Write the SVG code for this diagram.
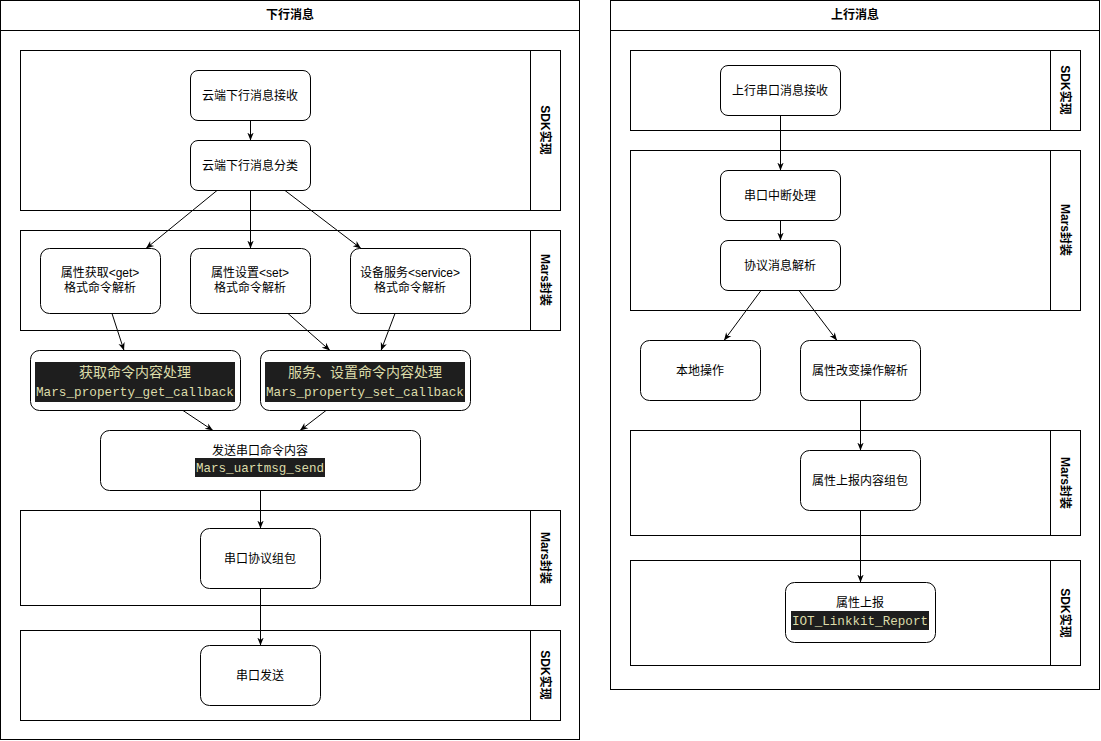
<svg xmlns="http://www.w3.org/2000/svg" width="1101" height="741" viewBox="0 0 1101 741">
<style>
  .pool, .lane { fill: #ffffff; stroke: #000000; stroke-width: 1; }
  .sep { stroke: #000000; stroke-width: 1; fill: none; }
  .node { fill: #ffffff; stroke: #000000; stroke-width: 1; }
  .t { font-family: "Liberation Sans", "Noto Sans CJK SC", sans-serif; font-size: 12px; fill: #000000; text-anchor: middle; }
  .title { font-family: "Liberation Sans", "Noto Sans CJK SC", sans-serif; font-size: 12px; font-weight: bold; fill: #000000; text-anchor: middle; dominant-baseline: central; }
  .code-bg { fill: #1e1e1e; }
  .code-cjk { font-family: "Liberation Sans", "Noto Sans CJK SC", sans-serif; font-size: 14px; fill: #dcdcaa; text-anchor: middle; }
  .code { font-family: "Liberation Mono", "Noto Sans CJK SC", monospace; font-size: 13px; fill: #dcdcaa; text-anchor: middle; }
  .edge { stroke: #000000; stroke-width: 1; fill: none; marker-end: url(#arr); }
</style>
<defs>
  <marker id="arr" viewBox="0 0 10 10" refX="10" refY="5" markerWidth="8" markerHeight="8" markerUnits="userSpaceOnUse" orient="auto">
    <path d="M0,1 L10,5 L0,9 L3,5 Z" fill="#000000" stroke="none"/>
  </marker>
</defs>

<!-- Left pool -->
<g id="pool-down">
  <rect class="pool" x="0.5" y="0.5" width="579" height="739"/>
  <line class="sep" x1="0.5" y1="30.5" x2="579.5" y2="30.5"/>
  <text class="title" x="290" y="15">下行消息</text>
</g>
<g id="lane-down-sdk1">
  <rect class="lane" x="20.5" y="50.5" width="540" height="160"/>
  <line class="sep" x1="530.5" y1="50.5" x2="530.5" y2="210.5"/>
  <text class="title" transform="translate(545,130) rotate(90)">SDK实现</text>
</g>
<g id="lane-down-mars1">
  <rect class="lane" x="20.5" y="230.5" width="540" height="100"/>
  <line class="sep" x1="530.5" y1="230.5" x2="530.5" y2="330.5"/>
  <text class="title" transform="translate(545,280) rotate(90)">Mars封装</text>
</g>
<g id="lane-down-mars2">
  <rect class="lane" x="20.5" y="510.5" width="540" height="95"/>
  <line class="sep" x1="530.5" y1="510.5" x2="530.5" y2="605.5"/>
  <text class="title" transform="translate(545,558) rotate(90)">Mars封装</text>
</g>
<g id="lane-down-sdk2">
  <rect class="lane" x="20.5" y="630.5" width="540" height="90"/>
  <line class="sep" x1="530.5" y1="630.5" x2="530.5" y2="720.5"/>
  <text class="title" transform="translate(545,675) rotate(90)">SDK实现</text>
</g>

<!-- Right pool -->
<g id="pool-up">
  <rect class="pool" x="610.5" y="0.5" width="489" height="689"/>
  <line class="sep" x1="610.5" y1="30.5" x2="1099.5" y2="30.5"/>
  <text class="title" x="855" y="15">上行消息</text>
</g>
<g id="lane-up-sdk1">
  <rect class="lane" x="630.5" y="50.5" width="450" height="80"/>
  <line class="sep" x1="1050.5" y1="50.5" x2="1050.5" y2="130.5"/>
  <text class="title" transform="translate(1065,90) rotate(90)">SDK实现</text>
</g>
<g id="lane-up-mars1">
  <rect class="lane" x="630.5" y="150.5" width="450" height="160"/>
  <line class="sep" x1="1050.5" y1="150.5" x2="1050.5" y2="310.5"/>
  <text class="title" transform="translate(1065,230) rotate(90)">Mars封装</text>
</g>
<g id="lane-up-mars2">
  <rect class="lane" x="630.5" y="430.5" width="450" height="105"/>
  <line class="sep" x1="1050.5" y1="430.5" x2="1050.5" y2="535.5"/>
  <text class="title" transform="translate(1065,483) rotate(90)">Mars封装</text>
</g>
<g id="lane-up-sdk2">
  <rect class="lane" x="630.5" y="560.5" width="450" height="105"/>
  <line class="sep" x1="1050.5" y1="560.5" x2="1050.5" y2="665.5"/>
  <text class="title" transform="translate(1065,613) rotate(90)">SDK实现</text>
</g>

<!-- Left nodes -->
<g id="n-cloud-recv">
  <rect class="node" x="190.5" y="70.5" width="120" height="50" rx="7.5"/>
  <text class="t" x="250" y="99.5">云端下行消息接收</text>
</g>
<g id="n-cloud-class">
  <rect class="node" x="190.5" y="140.5" width="120" height="50" rx="7.5"/>
  <text class="t" x="250" y="169.5">云端下行消息分类</text>
</g>
<g id="n-get-parse">
  <rect class="node" x="40.5" y="248.5" width="120" height="65" rx="9"/>
  <text class="t" x="100" y="277">属性获取&lt;get&gt;</text>
  <text class="t" x="100" y="292">格式命令解析</text>
</g>
<g id="n-set-parse">
  <rect class="node" x="190.5" y="248.5" width="120" height="65" rx="9"/>
  <text class="t" x="250" y="277">属性设置&lt;set&gt;</text>
  <text class="t" x="250" y="292">格式命令解析</text>
</g>
<g id="n-service-parse">
  <rect class="node" x="350.5" y="248.5" width="120" height="65" rx="9"/>
  <text class="t" x="410" y="277">设备服务&lt;service&gt;</text>
  <text class="t" x="410" y="292">格式命令解析</text>
</g>
<g id="n-get-cb">
  <rect class="node" x="30.5" y="350.5" width="210" height="60" rx="9"/>
  <rect class="code-bg" x="35" y="362" width="200" height="40"/>
  <text class="code-cjk" x="135" y="377">获取命令内容处理</text>
  <text class="code" x="135" y="396" textLength="198" lengthAdjust="spacingAndGlyphs">Mars_property_get_callback</text>
</g>
<g id="n-set-cb">
  <rect class="node" x="260.5" y="350.5" width="210" height="60" rx="9"/>
  <rect class="code-bg" x="265" y="362" width="200" height="40"/>
  <text class="code-cjk" x="365" y="377">服务、设置命令内容处理</text>
  <text class="code" x="365" y="396" textLength="198" lengthAdjust="spacingAndGlyphs">Mars_property_set_callback</text>
</g>
<g id="n-uart-send-cmd">
  <rect class="node" x="100.5" y="430.5" width="320" height="60" rx="9"/>
  <text class="t" x="260" y="455">发送串口命令内容</text>
  <rect class="code-bg" x="195" y="458" width="130" height="19"/>
  <text class="code" x="260" y="472" textLength="128" lengthAdjust="spacingAndGlyphs">Mars_uartmsg_send</text>
</g>
<g id="n-uart-pack">
  <rect class="node" x="200.5" y="528.5" width="120" height="60" rx="9"/>
  <text class="t" x="260" y="562.5">串口协议组包</text>
</g>
<g id="n-uart-tx">
  <rect class="node" x="200.5" y="645.5" width="120" height="60" rx="9"/>
  <text class="t" x="260" y="679.5">串口发送</text>
</g>

<!-- Right nodes -->
<g id="n-up-recv">
  <rect class="node" x="720.5" y="65.5" width="120" height="50" rx="7.5"/>
  <text class="t" x="780" y="94.5">上行串口消息接收</text>
</g>
<g id="n-uart-irq">
  <rect class="node" x="720.5" y="170.5" width="120" height="50" rx="7.5"/>
  <text class="t" x="780" y="199.5">串口中断处理</text>
</g>
<g id="n-proto-parse">
  <rect class="node" x="720.5" y="240.5" width="120" height="50" rx="7.5"/>
  <text class="t" x="780" y="269.5">协议消息解析</text>
</g>
<g id="n-local-op">
  <rect class="node" x="640.5" y="340.5" width="120" height="60" rx="9"/>
  <text class="t" x="700" y="374.5">本地操作</text>
</g>
<g id="n-prop-change">
  <rect class="node" x="800.5" y="340.5" width="120" height="60" rx="9"/>
  <text class="t" x="860" y="374.5">属性改变操作解析</text>
</g>
<g id="n-report-pack">
  <rect class="node" x="800.5" y="450.5" width="120" height="60" rx="9"/>
  <text class="t" x="860" y="484.5">属性上报内容组包</text>
</g>
<g id="n-report">
  <rect class="node" x="785.5" y="582.5" width="150" height="60" rx="9"/>
  <text class="t" x="860" y="607">属性上报</text>
  <rect class="code-bg" x="791" y="611" width="138" height="19"/>
  <text class="code" x="860" y="625" textLength="136" lengthAdjust="spacingAndGlyphs">IOT_Linkkit_Report</text>
</g>

<!-- Connectors -->
<g id="connectors">
  <line class="edge" x1="250.5" y1="120.5" x2="250.5" y2="140.5"/>
  <line class="edge" x1="217" y1="190.5" x2="146" y2="248.5"/>
  <line class="edge" x1="250.5" y1="190.5" x2="250.5" y2="248.5"/>
  <line class="edge" x1="285" y1="190.5" x2="361" y2="248.5"/>
  <line class="edge" x1="112" y1="313.5" x2="124" y2="350.5"/>
  <line class="edge" x1="288" y1="313.5" x2="330" y2="350.5"/>
  <line class="edge" x1="395" y1="313.5" x2="381" y2="350.5"/>
  <line class="edge" x1="183" y1="410.5" x2="213" y2="430.5"/>
  <line class="edge" x1="326" y1="410.5" x2="300" y2="430.5"/>
  <line class="edge" x1="260.5" y1="490.5" x2="260.5" y2="528.5"/>
  <line class="edge" x1="260.5" y1="588.5" x2="260.5" y2="645.5"/>
  <line class="edge" x1="780.5" y1="115.5" x2="780.5" y2="170.5"/>
  <line class="edge" x1="780.5" y1="220.5" x2="780.5" y2="240.5"/>
  <line class="edge" x1="761" y1="290.5" x2="724" y2="340.5"/>
  <line class="edge" x1="799" y1="290.5" x2="837" y2="340.5"/>
  <line class="edge" x1="860.5" y1="400.5" x2="860.5" y2="450.5"/>
  <line class="edge" x1="860.5" y1="510.5" x2="860.5" y2="582.5"/>
</g>
</svg>
